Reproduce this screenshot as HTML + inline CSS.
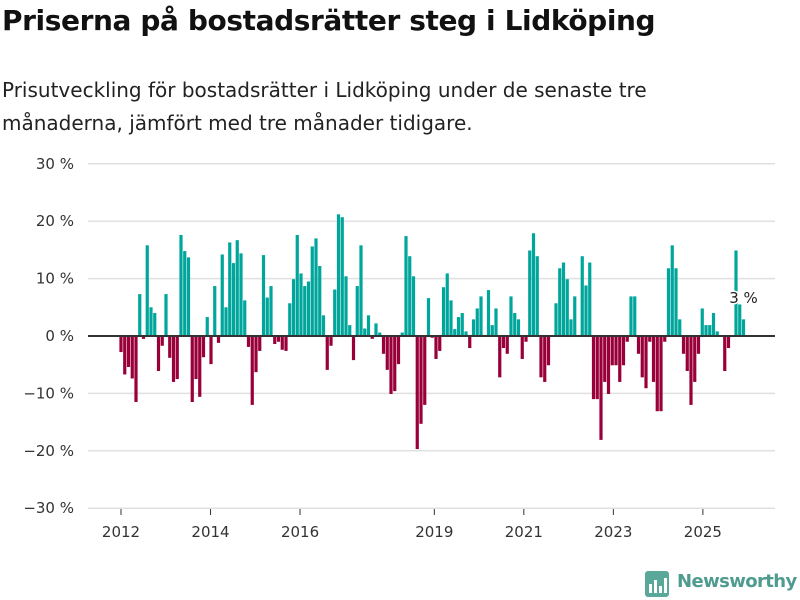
<!DOCTYPE html>
<html><head><meta charset="utf-8"><style>
body{margin:0;background:#fff;font-family:"Liberation Sans","DejaVu Sans",sans-serif;}
#wrap{position:relative;width:800px;height:600px;overflow:hidden;}
h1{position:absolute;left:2px;top:4px;margin:0;font-size:28px;font-weight:bold;color:#111;font-family:"DejaVu Sans","Liberation Sans",sans-serif;letter-spacing:-0.4px;}
#sub{position:absolute;left:2px;top:74px;margin:0;font-size:20px;line-height:33px;color:#222;font-family:"DejaVu Sans","Liberation Sans",sans-serif;}
svg text{font-family:"DejaVu Sans","Liberation Sans",sans-serif;}
</style></head><body>
<div id="wrap">
<h1>Priserna på bostadsrätter steg i Lidköping</h1>
<p id="sub">Prisutveckling för bostadsrätter i Lidköping under de senaste tre<br>månaderna, jämfört med tre månader tidigare.</p>
<svg id="chart" width="800" height="600" style="position:absolute;left:0;top:0"></svg>
<svg width="30" height="30" style="position:absolute;left:644px;top:570px">
<rect x="1" y="1" width="24" height="26" rx="3" fill="#5aa89a"/>
<rect x="5" y="14" width="3" height="9" fill="#fff"/><rect x="10" y="10" width="3" height="13" fill="#fff"/><rect x="15" y="16" width="3" height="7" fill="#fff"/><rect x="20" y="8" width="3" height="15" fill="#fff"/>
</svg>
<div style="position:absolute;left:677px;top:571px;font-size:18px;font-weight:bold;color:#4f9b8f;font-family:'DejaVu Sans','Liberation Sans',sans-serif;letter-spacing:-0.6px">Newsworthy</div>
</div>
<script>
const values=[-2.8,-6.7,-5.4,-7.4,-11.5,7.3,-0.5,15.8,5,4,-6.1,-1.7,7.3,-3.8,-8,-7.5,17.6,14.8,13.7,-11.5,-7.5,-10.6,-3.7,3.3,-4.9,8.7,-1.2,14.2,5,16.3,12.7,16.7,14.4,6.2,-1.9,
-12,-6.3,-2.6,14.1,6.7,8.7,-1.4,-1,-2.4,-2.6,5.7,9.9,17.6,10.9,8.7,9.5,15.6,17,12.2,3.6,-5.9,-1.7,8.1,21.2,20.7,10.4,1.9,-4.2,8.7,15.8,1.3,3.6,-0.5,2.2,0.6,-3.1,
-5.9,-10.1,-9.6,-4.9,0.6,17.4,13.9,10.4,-19.7,-15.3,-12,6.6,-0.3,-4,-2.6,8.5,10.9,6.2,1.2,3.3,4,0.8,-2.1,2.9,4.8,6.9,0,8,1.9,4.8,-7.2,-2.1,-3.1,6.9,4,2.9,
-4,-1,14.9,17.9,13.9,-7.2,-8,-5.1,0,5.7,11.8,12.8,9.9,2.9,6.9,0,13.9,8.8,12.8,-11,-11,-18.1,-8,-10.1,-5.1,-5.1,-8,-5.1,-1,6.9,6.9,-3.1,-7.2,-9.1,-1,-8,
-13.1,-13.1,-1,11.8,15.8,11.8,2.9,-3.1,-6.1,-12,-8,-3.1,4.8,1.9,1.9,4,0.8,0,-6.1,-2.1,0,14.9,5.5,2.9];
const yTicks=[30,20,10,0,-10,-20,-30];
const yTickLabels=["30 %","20 %","10 %","0 %","−10 %","−20 %","−30 %"];
const xTickYears=[2012,2014,2016,2019,2021,2023,2025];
const startYear=2012;
const lastLabel="3 %";

const svg=document.getElementById('chart');
const NS='http://www.w3.org/2000/svg';
const plotL=88,plotR=775;
function y(v){return 336-v*5.74;}
function x(i){return 121+i*3.75;}
function xTick(yr){return 121+(yr-startYear)*12*3.73;}
function mk(tag,attrs){const e=document.createElementNS(NS,tag);for(const k in attrs)e.setAttribute(k,attrs[k]);svg.appendChild(e);return e;}
yTicks.forEach((t,k)=>{
  const g=mk('line',{x1:plotL,x2:plotR,y1:y(t),y2:y(t),stroke:'#e0e0e0','stroke-width':1.5});
  
  
  const tx=mk('text',{x:74,y:y(t)+5,'text-anchor':'end','font-size':15,fill:'#333'});
  tx.textContent=yTickLabels[k];
  
  
});
xTickYears.forEach(yr=>{
  const px=xTick(yr);
  const tk=mk('line',{x1:px,x2:px,y1:509,y2:515,stroke:'#333','stroke-width':1});
  
  
  const tx=mk('text',{x:px,y:537,'text-anchor':'middle','font-size':15,fill:'#333'});
  tx.textContent=yr;
  
  
});
values.forEach((v,i)=>{
  const top=Math.min(y(v),y(0)),h=Math.abs(y(v)-y(0));
  const r=mk('rect',{x:x(i)-1.6,y:top,width:3.2,height:h,fill:v>=0?'#00a69c':'#990039'});
  
  
});
const zl=mk('line',{x1:plotL,x2:plotR,y1:y(0),y2:y(0),stroke:'#333','stroke-width':2});


const lbl=mk('text',{x:x(values.length-1),y:303,'text-anchor':'middle','font-size':15,fill:'#222',stroke:'#fff','stroke-width':3,'paint-order':'stroke'});
lbl.textContent=lastLabel;


</script>
</body></html>
